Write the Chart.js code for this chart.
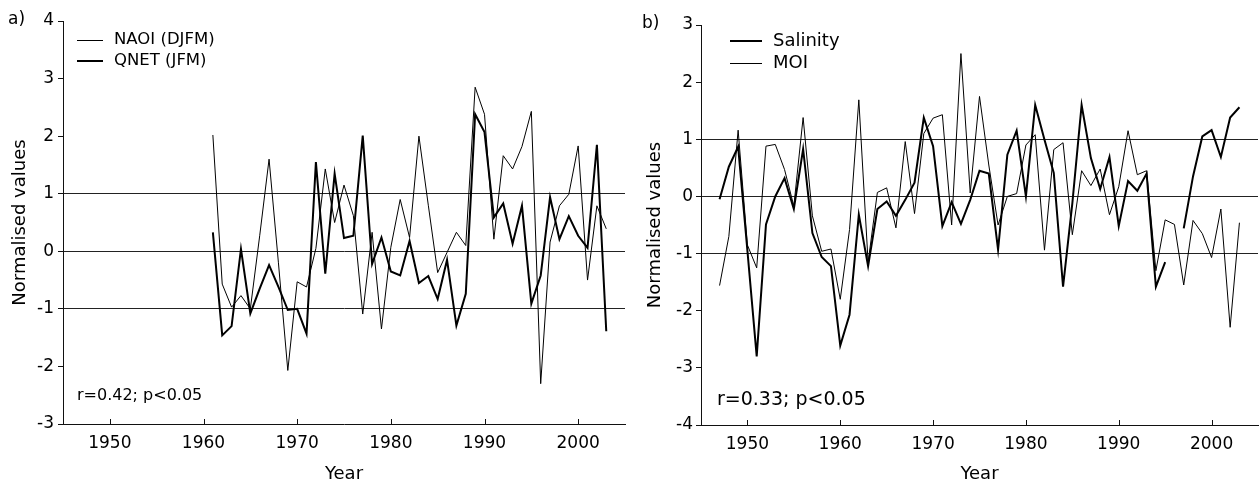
<!DOCTYPE html>
<html>
<head>
<meta charset="utf-8">
<script src="https://cdn.jsdelivr.net/npm/chart.js@4.4.1/dist/chart.umd.min.js"></script>
<style>
  html, body { margin: 0; padding: 0; background: #fff; }
  #wrap { position: relative; width: 1260px; height: 485px; font-family: "DejaVu Sans", sans-serif; }
  .panel { position: absolute; top: 0; width: 630px; height: 485px; }
  .tag { position: absolute; font-size: 17px; color: #000; line-height: 1; }
</style>
</head>
<body>
<div id="wrap">
  <div class="panel" style="left:0"><canvas id="chart-a" width="630" height="485"></canvas></div>
  <div class="panel" style="left:630px"><canvas id="chart-b" width="630" height="485"></canvas></div>
  <div class="tag" style="left:8px;top:10px">a)</div>
  <div class="tag" style="left:642px;top:14px">b)</div>
</div>
<script>
"use strict";

// ---- Data -----------------------------------------------------------------

const YEARS_A = [
  1961, 1962, 1963, 1964, 1965, 1966, 1967, 1968, 1969, 1970,
  1971, 1972, 1973, 1974, 1975, 1976, 1977, 1978, 1979, 1980,
  1981, 1982, 1983, 1984, 1985, 1986, 1987, 1988, 1989, 1990,
  1991, 1992, 1993, 1994, 1995, 1996, 1997, 1998, 1999, 2000,
  2001, 2002, 2003,
];
const NAOI = [
  2.02, -0.57, -0.97, -0.77, -1.00, 0.27, 1.60, -0.20, -2.07, -0.53,
  -0.62, 0.05, 1.43, 0.50, 1.15, 0.62, -1.09, 0.33, -1.35, 0.07,
  0.90, 0.24, 2.00, 0.80, -0.37, -0.02, 0.33, 0.10, 2.85, 2.38,
  0.21, 1.66, 1.43, 1.82, 2.43, -2.30, 0.16, 0.79, 0.99, 1.83,
  -0.50, 0.79, 0.39,
];
const QNET = [
  0.33, -1.46, -1.30, 0.04, -1.08, -0.65, -0.24, -0.62, -1.02, -1.00,
  -1.43, 1.55, -0.39, 1.35, 0.23, 0.27, 2.01, -0.22, 0.24, -0.35,
  -0.42, 0.18, -0.55, -0.43, -0.83, -0.15, -1.29, -0.74, 2.38, 2.07,
  0.59, 0.83, 0.13, 0.79, -0.91, -0.42, 0.94, 0.21, 0.61, 0.27,
  0.06, 1.85, -1.39,
];

const YEARS_B = [
  1947, 1948, 1949, 1950, 1951, 1952, 1953, 1954, 1955, 1956,
  1957, 1958, 1959, 1960, 1961, 1962, 1963, 1964, 1965, 1966,
  1967, 1968, 1969, 1970, 1971, 1972, 1973, 1974, 1975, 1976,
  1977, 1978, 1979, 1980, 1981, 1982, 1983, 1984, 1985, 1986,
  1987, 1988, 1989, 1990, 1991, 1992, 1993, 1994, 1995, 1996,
  1997, 1998, 1999, 2000, 2001, 2002, 2003,
];
const SALINITY = [
  -0.05, 0.52, 0.87, -0.95, -2.80, -0.49, 0.00, 0.32, -0.22, 0.83,
  -0.64, -1.06, -1.22, -2.61, -2.07, -0.32, -1.22, -0.22, -0.09, -0.34,
  -0.06, 0.24, 1.38, 0.88, -0.52, -0.10, -0.48, -0.06, 0.45, 0.40,
  -0.93, 0.73, 1.15, 0.00, 1.60, 0.99, 0.41, -1.58, -0.12, 1.60,
  0.67, 0.13, 0.69, -0.52, 0.27, 0.10, 0.40, -1.58, -1.15, null,
  -0.56, 0.35, 1.05, 1.16, 0.69, 1.38, 1.56,
];
const MOI = [
  -1.56, -0.70, 1.16, -0.85, -1.25, 0.88, 0.91, 0.47, -0.17, 1.38,
  -0.34, -0.96, -0.92, -1.80, -0.58, 1.69, -1.15, 0.07, 0.15, -0.55,
  0.96, -0.30, 1.10, 1.37, 1.43, -0.50, 2.50, 0.06, 1.75, 0.55,
  -0.50, 0.00, 0.05, 0.90, 1.08, -0.94, 0.82, 0.94, -0.67, 0.45,
  0.19, 0.48, -0.32, 0.17, 1.15, 0.38, 0.45, -1.30, -0.41, -0.49,
  -1.55, -0.42, -0.65, -1.07, -0.22, -2.29, -0.46,
];

const X_TICKS = [1950, 1960, 1970, 1980, 1990, 2000];
const Y_TICKS_A = [-3, -2, -1, 0, 1, 2, 3, 4];
const Y_TICKS_B = [-4, -3, -2, -1, 0, 1, 2, 3];
const REF_LINES = [-1, 0, 1];

const FONT = "DejaVu Sans";
const INK = "#111";

const points = (years, values) => years.map((x, i) => ({ x, y: values[i] }));

// ---- Plugin: inward year ticks, legend inside plot, r/p note --------------

const panelText = {
  id: "panelText",
  afterDraw(chart, args, opts) {
    const ctx = chart.ctx;
    const xs = chart.scales.x;
    ctx.save();

    ctx.strokeStyle = INK;
    ctx.lineWidth = 1;
    ctx.beginPath();
    for (const t of xs.ticks) {
      const px = Math.round(xs.getPixelForValue(t.value)) + 0.5;
      ctx.moveTo(px, xs.top);
      ctx.lineTo(px, xs.top - 5);
    }
    ctx.stroke();

    ctx.fillStyle = "#000";
    ctx.textBaseline = "middle";
    ctx.font = `${opts.legendSize}px "${FONT}"`;
    chart.data.datasets.forEach((ds, i) => {
      const y = opts.legendY[i] + (ds.borderWidth % 2 ? 0.5 : 0);
      ctx.strokeStyle = ds.borderColor;
      ctx.lineWidth = ds.borderWidth;
      ctx.beginPath();
      ctx.moveTo(opts.legendX[0], y);
      ctx.lineTo(opts.legendX[1], y);
      ctx.stroke();
      ctx.fillText(ds.label, opts.legendX[2], opts.legendY[i]);
    });

    ctx.textBaseline = "alphabetic";
    ctx.font = `${opts.noteSize}px "${FONT}"`;
    ctx.fillText(opts.note, opts.noteX, opts.noteY);
    ctx.restore();
  },
};

// ---- Chart builder ---------------------------------------------------------

function makePanel(canvasId, cfg) {
  return new Chart(document.getElementById(canvasId), {
    type: "line",
    data: { datasets: cfg.datasets },
    options: {
      responsive: false,
      animation: false,
      events: [],
      layout: { padding: cfg.padding },
      elements: { point: { radius: 0 }, line: { tension: 0 } },
      plugins: {
        legend: { display: false },
        tooltip: { enabled: false },
        panelText: cfg.text,
      },
      scales: {
        x: {
          type: "linear",
          min: 1945,
          max: 2005,
          afterBuildTicks: (axis) => { axis.ticks = X_TICKS.map((v) => ({ value: v })); },
          afterFit: (scale) => { scale.height = cfg.xAxisHeight; },
          grid: { display: false, drawTicks: false, tickLength: 0 },
          border: { display: true, color: INK, width: 1 },
          ticks: {
            color: "#000",
            padding: 9,
            maxRotation: 0,
            font: { family: FONT, size: 17 },
            callback: (v) => String(v),
          },
          title: {
            display: true,
            text: "Year",
            color: "#000",
            padding: { top: 0, bottom: 0 },
            font: { family: FONT, size: 18 },
          },
        },
        y: {
          min: cfg.yTicks[0],
          max: cfg.yTicks[cfg.yTicks.length - 1],
          afterBuildTicks: (axis) => { axis.ticks = cfg.yTicks.map((v) => ({ value: v })); },
          afterFit: (scale) => { scale.width = cfg.yAxisWidth; },
          grid: {
            drawOnChartArea: true,
            drawTicks: true,
            tickLength: 5,
            tickColor: INK,
            lineWidth: 1,
            color: (c) => (REF_LINES.includes(c.tick && c.tick.value) ? "#222" : "rgba(0,0,0,0)"),
          },
          border: { display: true, color: INK, width: 1 },
          ticks: {
            color: "#000",
            padding: cfg.yTickPad,
            font: { family: FONT, size: 17 },
            callback: (v) => String(v),
          },
          title: {
            display: true,
            text: "Normalised values",
            color: "#000",
            padding: { top: cfg.yTitlePad, bottom: 0 },
            font: { family: FONT, size: 18 },
          },
        },
      },
    },
    plugins: [panelText],
  });
}

makePanel("chart-a", {
  padding: { top: 21, right: 5, bottom: 0, left: 0 },
  yAxisWidth: 63,
  xAxisHeight: 61,
  yTickPad: 4,
  yTitlePad: 10,
  yTicks: Y_TICKS_A,
  datasets: [
    { label: "NAOI (DJFM)", data: points(YEARS_A, NAOI), borderColor: "#000", borderWidth: 1 },
    { label: "QNET (JFM)", data: points(YEARS_A, QNET), borderColor: "#000", borderWidth: 2 },
  ],
  text: {
    legendSize: 16.5, legendX: [77, 103, 114], legendY: [40, 61],
    note: "r=0.42; p<0.05", noteSize: 16, noteX: 77, noteY: 400,
  },
});

makePanel("chart-b", {
  padding: { top: 25, right: 2, bottom: 0, left: 0 },
  yAxisWidth: 71,
  xAxisHeight: 60,
  yTickPad: 3,
  yTitlePad: 15,
  yTicks: Y_TICKS_B,
  datasets: [
    { label: "Salinity", data: points(YEARS_B, SALINITY), borderColor: "#000", borderWidth: 2, spanGaps: false },
    { label: "MOI", data: points(YEARS_B, MOI), borderColor: "#000", borderWidth: 1 },
  ],
  text: {
    legendSize: 18, legendX: [100, 132, 143], legendY: [41, 63],
    note: "r=0.33; p<0.05", noteSize: 19, noteX: 87, noteY: 405,
  },
});
</script>
</body>
</html>
